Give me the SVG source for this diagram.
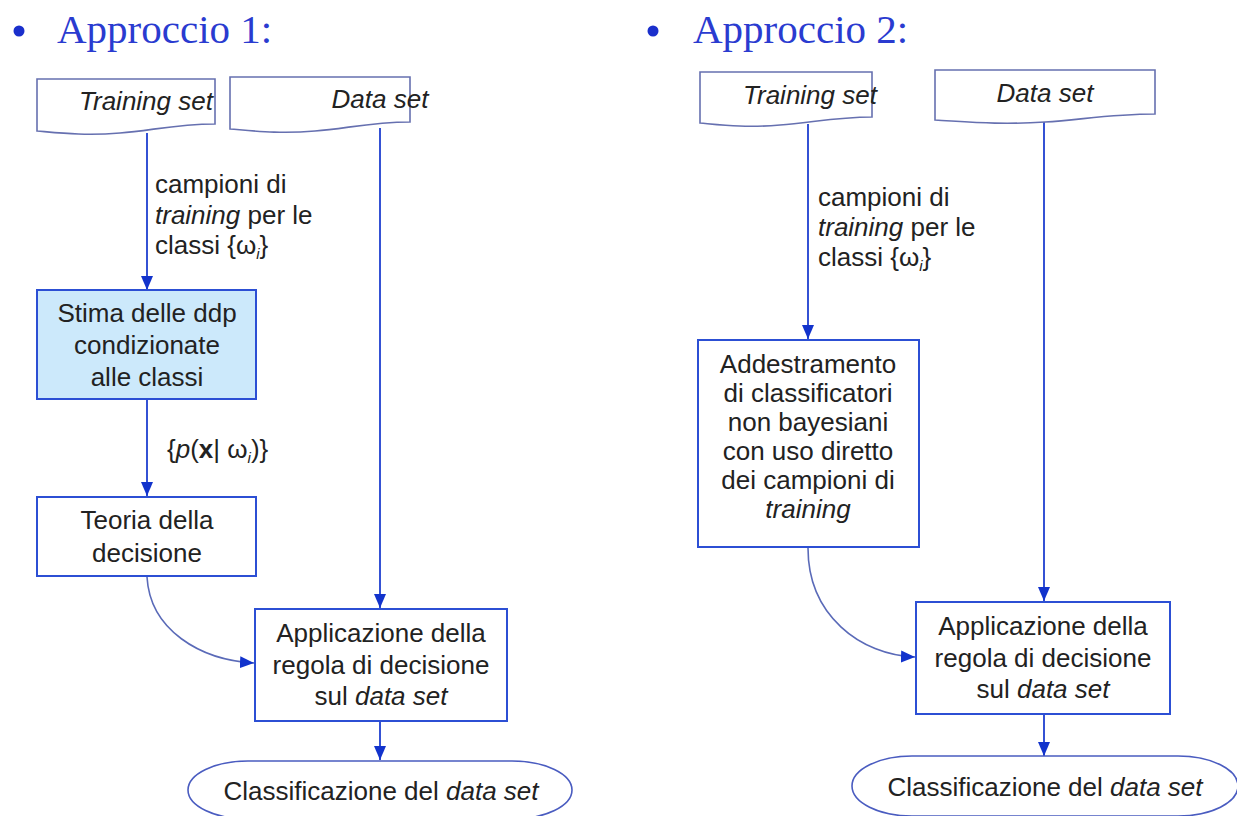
<svg xmlns="http://www.w3.org/2000/svg" width="1237" height="816" viewBox="0 0 1237 816">
<style>
.t{font-family:"Liberation Sans",Arial,sans-serif;font-size:26px;fill:#222}
.c{text-anchor:middle}
.i{font-style:italic}
.h{font-family:"Liberation Serif","Times New Roman",serif;font-size:41px;fill:#2a3bd0}
.box{fill:#fff;stroke:#2c4fd4;stroke-width:2}
.doc{fill:#fff;stroke:#6670b0;stroke-width:1.6}
.ln{fill:none;stroke:#1f3fd0;stroke-width:1.8}
.cv{fill:none;stroke:#5a6ab8;stroke-width:1.6}
</style>
<defs>
<marker id="ah" viewBox="0 0 14 12" refX="14" refY="6" markerWidth="14" markerHeight="12" markerUnits="userSpaceOnUse" orient="auto">
<path d="M0,0 L14,6 L0,12 Z" fill="#1233cc"/>
</marker>
</defs>
<rect width="1237" height="816" fill="#fff"/>

<g id="title1">
<circle cx="19" cy="31" r="5.5" fill="#1a2fcc"/>
<text class="h" x="57" y="43">Approccio 1:</text>
</g>
<g id="title2">
<circle cx="653" cy="31" r="5.5" fill="#1a2fcc"/>
<text class="h" x="693" y="43">Approccio 2:</text>
</g>

<g id="connectors">
<path class="ln" d="M147,133 V290" marker-end="url(#ah)"/>
<path class="ln" d="M147,399 V496" marker-end="url(#ah)"/>
<path class="cv" d="M147,577 C150,630 200,660 254,663" marker-end="url(#ah)"/>
<path class="ln" d="M380,128 V608" marker-end="url(#ah)"/>
<path class="ln" d="M380,721 V760" marker-end="url(#ah)"/>
<path class="ln" d="M808,124 V339" marker-end="url(#ah)"/>
<path class="cv" d="M808,548 C808,615 860,655 915,657" marker-end="url(#ah)"/>
<path class="ln" d="M1044,121 V601" marker-end="url(#ah)"/>
<path class="ln" d="M1044,714 V756" marker-end="url(#ah)"/>
</g>

<g id="lbl1">
<text class="t" x="155" y="193">campioni di</text>
<text class="t" x="155" y="224"><tspan class="i">training</tspan> per le</text>
<text class="t" x="155" y="254">classi {ω<tspan class="i" font-size="15" dy="5">i</tspan><tspan dy="-5">}</tspan></text>
</g>
<g id="lbl2">
<text class="t" x="167" y="458">{<tspan class="i">p</tspan>(<tspan font-weight="bold">x</tspan>| ω<tspan class="i" font-size="15" dy="5">i</tspan><tspan dy="-5">)}</tspan></text>
</g>
<g id="lbl3">
<text class="t" x="818" y="206">campioni di</text>
<text class="t" x="818" y="236"><tspan class="i">training</tspan> per le</text>
<text class="t" x="818" y="266">classi {ω<tspan class="i" font-size="15" dy="5">i</tspan><tspan dy="-5">}</tspan></text>
</g>

<g id="trainset1">
<path class="doc" d="M37,79 H215 V124 C175,124 150,131 120,133 C85,136 60,133 37,131 Z"/>
<text class="t i c" x="146" y="110" font-size="24">Training set</text>
</g>
<g id="dataset1">
<path class="doc" d="M230,77 H410 V122 C370,122 345,129 315,131 C280,134 255,131 230,129 Z"/>
<text class="t i c" x="380" y="108" font-size="24">Data set</text>
</g>
<g id="stima">
<rect x="37" y="290" width="219" height="109" fill="#cce9fb" stroke="#2c4fd4" stroke-width="2"/>
<text class="t c" x="147" y="322">Stima delle ddp</text>
<text class="t c" x="147" y="354">condizionate</text>
<text class="t c" x="147" y="386">alle classi</text>
</g>
<g id="teoria">
<rect class="box" x="37" y="497" width="219" height="79"/>
<text class="t c" x="147" y="529">Teoria della</text>
<text class="t c" x="147" y="562">decisione</text>
</g>
<g id="applica1">
<rect class="box" x="255" y="609" width="252" height="112"/>
<text class="t c" x="381" y="642">Applicazione della</text>
<text class="t c" x="381" y="674">regola di decisione</text>
<text class="t c" x="381" y="705">sul <tspan class="i">data set</tspan></text>
</g>
<g id="classif1">
<rect x="188" y="761" width="384" height="58" rx="60" ry="29" fill="#fff" stroke="#4a5cc0" stroke-width="1.6"/>
<text class="t c" x="381" y="800">Classificazione del <tspan class="i">data set</tspan></text>
</g>

<g id="trainset2">
<path class="doc" d="M700,72 H872 V117 C835,117 810,123 780,125 C745,128 722,125 700,123 Z"/>
<text class="t i c" x="810" y="104" font-size="24">Training set</text>
</g>
<g id="dataset2">
<path class="doc" d="M935,70 H1155 V114 C1110,114 1080,120 1045,122 C1000,125 970,122 935,120 Z"/>
<text class="t i c" x="1045" y="102" font-size="24">Data set</text>
</g>
<g id="addestra">
<rect class="box" x="698" y="340" width="221" height="207"/>
<text class="t c" x="808" y="373">Addestramento</text>
<text class="t c" x="808" y="402">di classificatori</text>
<text class="t c" x="808" y="431">non bayesiani</text>
<text class="t c" x="808" y="460">con uso diretto</text>
<text class="t c" x="808" y="489">dei campioni di</text>
<text class="t c i" x="808" y="518">training</text>
</g>
<g id="applica2">
<rect class="box" x="916" y="602" width="254" height="112"/>
<text class="t c" x="1043" y="635">Applicazione della</text>
<text class="t c" x="1043" y="667">regola di decisione</text>
<text class="t c" x="1043" y="698">sul <tspan class="i">data set</tspan></text>
</g>
<g id="classif2">
<rect x="852" y="756" width="386" height="60" rx="60" ry="30" fill="#fff" stroke="#4a5cc0" stroke-width="1.6"/>
<text class="t c" x="1045" y="796">Classificazione del <tspan class="i">data set</tspan></text>
</g>
</svg>
